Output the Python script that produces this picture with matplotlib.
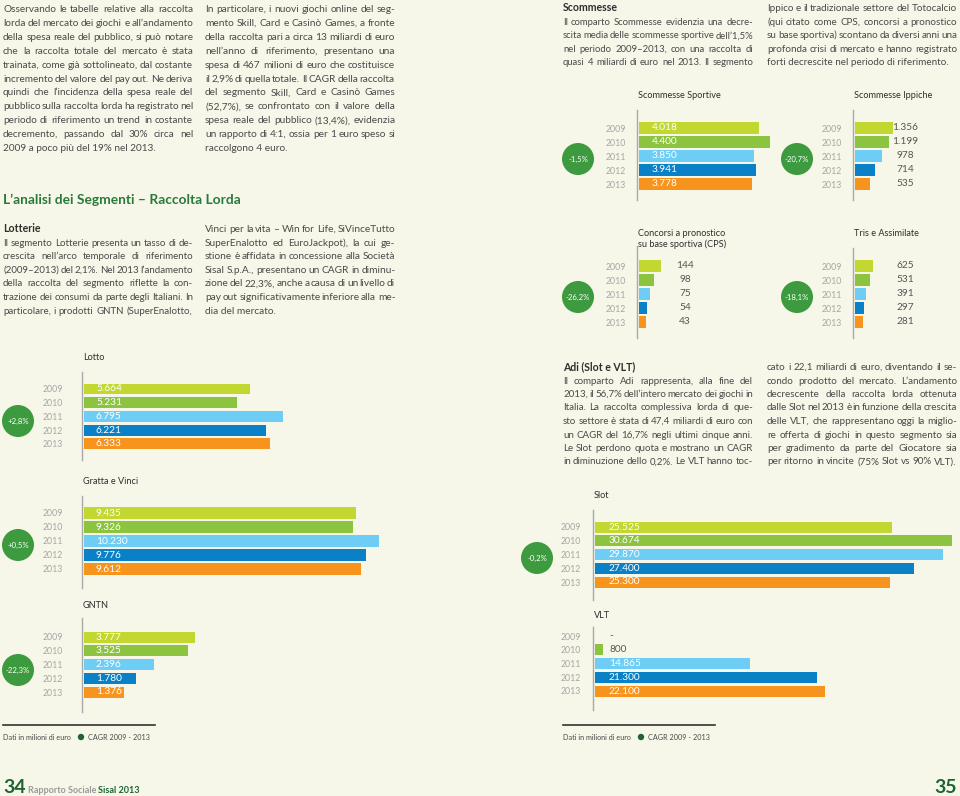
import matplotlib.pyplot as plt
from matplotlib.patches import Circle

# ---- data (milioni di euro) ----
years = ["2009", "2010", "2011", "2012", "2013"]
lotto = [5664, 5231, 6795, 6221, 6333]
gratta = [9435, 9326, 10230, 9776, 9612]
gntn = [3777, 3525, 2396, 1780, 1376]
slot = [25525, 30674, 29870, 27400, 25300]
vlt = [0, 800, 14865, 21300, 22100]
sportive = [4018, 4400, 3850, 3941, 3778]
ippiche = [1356, 1199, 978, 714, 535]
cps = [144, 98, 75, 54, 43]
tris = [625, 531, 391, 297, 281]

cagr_lotto, cagr_gratta, cagr_gntn = "+2,8%", "+0,5%", "-22,3%"
cagr_slot = "-0,2%"
cagr_sportive, cagr_ippiche, cagr_cps, cagr_tris = "-1,5%", "-20,7%", "-26,2%", "-18,1%"

BG = "#f6f7e9"
COLORS = ["#c2d72f", "#8cc43f", "#6dcdf5", "#0a80c6", "#f7941e"]
TXT = "#4a4a4a"
GREEN = "#3e9a3f"
DKGREEN = "#1d6432"

plt.rcParams['font.family'] = ['Lato', 'DejaVu Sans']

W, H = 960, 796
fig = plt.figure(figsize=(9.6, 7.96), dpi=100, facecolor=BG)
ov = fig.add_axes([0, 0, 1, 1])
ov.set_xlim(0, W)
ov.set_ylim(H, 0)
ov.axis('off')
renderer = fig.canvas.get_renderer()


def word_width(word, size, weight):
    t = ov.text(0, 0, word, fontsize=size, fontweight=weight)
    w = t.get_window_extent(renderer).width
    t.remove()
    return w


def paragraph(x0, x1, base0, step, lines, size=7.6, weight='normal',
              color=TXT, ragged=(-1,)):
    ragged = [r % len(lines) for r in ragged]
    minsp = 0.15 * size * 100 / 72
    info = []
    fit = 1.0
    for i, line in enumerate(lines):
        words = line.split(' ')
        ws = [word_width(w, size, weight) for w in words]
        info.append((words, ws))
        if i not in ragged and len(words) > 1:
            nat = sum(ws) + minsp * (len(words) - 1)
            fit = min(fit, (x1 - x0) / nat)
    s = size * fit
    for i, (words, ws) in enumerate(info):
        y = base0 + i * step
        if i in ragged or len(words) == 1:
            ov.text(x0, y, ' '.join(words), fontsize=s, fontweight=weight,
                    color=color, va='baseline', ha='left')
            continue
        ws = [w * fit for w in ws]
        gap = (x1 - x0 - sum(ws)) / (len(words) - 1)
        x = x0
        for w, ww in zip(words, ws):
            ov.text(x, y, w, fontsize=s, fontweight=weight, color=color,
                    va='baseline', ha='left')
            x += ww + gap


def fmt(v):
    return "-" if v == 0 else f"{v:,}".replace(",", ".")


def panel(vals, axis_x, top, bottom, c0, step, scale, label_off,
          outside=False, year_gap=19, title=None, title_y=None,
          circle=None):
    lo = c0 + 4 * step
    wpx = max(vals) * scale + 4
    ax = fig.add_axes([(axis_x + 2) / W, 1 - bottom / H, wpx / W,
                       (bottom - top) / H])
    ax.set_facecolor('none')
    ax.barh(range(5), vals, height=0.8, color=COLORS)
    ax.set_xlim(0, wpx / scale)
    ax.set_ylim(4 + (bottom - lo) / step, -(c0 - top) / step)
    for sp in ['top', 'right', 'bottom']:
        ax.spines[sp].set_visible(False)
    ax.spines['left'].set_position(('outward', 1.5))
    ax.spines['left'].set_color('#a9a9a9')
    ax.spines['left'].set_linewidth(1.0)
    ax.set_xticks([])
    ax.set_yticks(range(5), years)
    ax.tick_params(axis='y', length=0, pad=year_gap * 0.72,
                   labelsize=6.3, labelcolor='#a6a6a6')
    for i, v in enumerate(vals):
        if outside:
            ax.annotate(fmt(v), (0, i), xytext=(label_off * 0.72, 0),
                        textcoords='offset points', ha='center',
                        va='center', fontsize=7.3, color='#555555',
                        annotation_clip=False)
        else:
            c = 'white' if v * scale > 40 else '#555555'
            ax.annotate(fmt(v), (0, i), xytext=(label_off * 0.72, 0),
                        textcoords='offset points', ha='left',
                        va='center', fontsize=7.3, color=c,
                        annotation_clip=False)
    if title:
        ov.text(axis_x + 1, title_y, title, fontsize=6.6, color='#2e2e2e',
                va='center', ha='left', linespacing=1.25)
    if circle:
        cx, cy, txt = circle
        ov.add_patch(Circle((cx, cy), 16, color=GREEN, lw=0))
        ov.text(cx, cy, txt, fontsize=5.6, color='white', ha='center',
                va='center')
    return ax


# ---- left page panels ----
panel(lotto, 82, 372, 460, 389, 13.7, 0.0293, 12, title="Lotto",
      title_y=358, circle=(18, 421, cagr_lotto))
panel(gratta, 82, 496, 588, 513, 14.0, 0.0288, 12, title="Gratta e Vinci",
      title_y=481, circle=(18, 545, cagr_gratta))
panel(gntn, 82, 618, 712, 637, 13.75, 0.0294, 12, title="GNTN",
      title_y=605, circle=(18, 670, cagr_gntn))

# ---- right page panels ----
panel(sportive, 637, 110, 200, 128, 14.0, 0.0298, 13, year_gap=11,
      title="Scommesse Sportive", title_y=96,
      circle=(578, 159, cagr_sportive))
panel(ippiche, 853, 110, 200, 128, 14.0, 0.028, 50, outside=True,
      year_gap=11, title="Scommesse Ippiche", title_y=96,
      circle=(797, 159, cagr_ippiche))
panel(cps, 637, 246, 338, 266, 14.0, 0.153, 46, outside=True, year_gap=11,
      title="Concorsi a pronostico\nsu base sportiva (CPS)", title_y=239,
      circle=(578, 297, cagr_cps))
panel(tris, 853, 248, 338, 266, 14.0, 0.029, 50, outside=True, year_gap=11,
      title="Tris e Assimilate", title_y=234,
      circle=(797, 297, cagr_tris))
panel(slot, 593, 510, 600, 527, 13.75, 0.01165, 14, year_gap=12,
      title="Slot", title_y=495, circle=(537, 558, cagr_slot))
panel(vlt, 593, 627, 710, 636, 13.75, 0.0104, 14, year_gap=12,
      title="VLT", title_y=616)

# ---- text blocks ----
t1 = ["Osservando le tabelle relative alla raccolta",
      "lorda del mercato dei giochi e all’andamento",
      "della spesa reale del pubblico, si può notare",
      "che la raccolta totale del mercato è stata",
      "trainata, come già sottolineato, dal costante",
      "incremento del valore del pay out. Ne deriva",
      "quindi che l’incidenza della spesa reale del",
      "pubblico sulla raccolta lorda ha registrato nel",
      "periodo di riferimento un trend in costante",
      "decremento, passando dal 30% circa nel",
      "2009 a poco più del 19% nel 2013."]
t2 = ["In particolare, i nuovi giochi online del seg-",
      "mento Skill, Card e Casinò Games, a fronte",
      "della raccolta pari a circa 13 miliardi di euro",
      "nell’anno di riferimento, presentano una",
      "spesa di 467 milioni di euro che costituisce",
      "il 2,9% di quella totale. Il CAGR della raccolta",
      "del segmento Skill, Card e Casinò Games",
      "(52,7%), se confrontato con il valore della",
      "spesa reale del pubblico (13,4%), evidenzia",
      "un rapporto di 4:1, ossia per 1 euro speso si",
      "raccolgono 4 euro."]
paragraph(3, 193, 12, 13.9, t1)
paragraph(205, 395, 12, 13.9, t2)

ov.text(3, 204, "L’analisi dei Segmenti – Raccolta Lorda", fontsize=9.9,
        fontweight='bold', color="#2a7a3a", va='baseline')

lot1 = ["Il segmento Lotterie presenta un tasso di de-",
        "crescita nell’arco temporale di riferimento",
        "(2009–2013) del 2,1%. Nel 2013 l’andamento",
        "della raccolta del segmento riflette la con-",
        "trazione dei consumi da parte degli Italiani. In",
        "particolare, i prodotti GNTN (SuperEnalotto,"]
lot2 = ["Vinci per la vita – Win for Life, SiVinceTutto",
        "SuperEnalotto ed EuroJackpot), la cui ge-",
        "stione è affidata in concessione alla Società",
        "Sisal S.p.A., presentano un CAGR in diminu-",
        "zione del 22,3%, anche a causa di un livello di",
        "pay out significativamente inferiore alla me-",
        "dia del mercato."]
ov.text(3, 232, "Lotterie", fontsize=7.6, fontweight='bold', color='#2e2e2e',
        va='baseline')
paragraph(3, 193, 245.5, 13.6, lot1, ragged=())
paragraph(205, 395, 232, 13.6, lot2)

sc1 = ["Il comparto Scommesse evidenzia una decre-",
       "scita media delle scommesse sportive dell’1,5%",
       "nel periodo 2009–2013, con una raccolta di",
       "quasi 4 miliardi di euro nel 2013. Il segmento"]
sc2 = ["Ippico e il tradizionale settore del Totocalcio",
       "(qui citato come CPS, concorsi a pronostico",
       "su base sportiva) scontano da diversi anni una",
       "profonda crisi di mercato e hanno registrato",
       "forti decrescite nel periodo di riferimento."]
ov.text(563, 11, "Scommesse", fontsize=7.6, fontweight='bold',
        color='#2e2e2e', va='baseline')
paragraph(563, 753, 24.6, 13.6, sc1, ragged=())
paragraph(767, 957, 11, 13.6, sc2)

adi1 = ["Il comparto Adi rappresenta, alla fine del",
        "2013, il 56,7% dell’intero mercato dei giochi in",
        "Italia. La raccolta complessiva lorda di que-",
        "sto settore è stata di 47,4 miliardi di euro con",
        "un CAGR del 16,7% negli ultimi cinque anni.",
        "Le Slot perdono quota e mostrano un CAGR",
        "in diminuzione dello 0,2%. Le VLT hanno toc-"]
adi2 = ["cato i 22,1 miliardi di euro, diventando il se-",
        "condo prodotto del mercato. L’andamento",
        "decrescente della raccolta lorda ottenuta",
        "dalle Slot nel 2013 è in funzione della crescita",
        "delle VLT, che rappresentano oggi la miglio-",
        "re offerta di giochi in questo segmento sia",
        "per gradimento da parte del Giocatore sia",
        "per ritorno in vincite (75% Slot vs 90% VLT)."]
ov.text(563, 370, "Adi (Slot e VLT)", fontsize=7.6, fontweight='bold',
        color='#2e2e2e', va='baseline')
paragraph(563, 753, 383.5, 13.5, adi1, ragged=())
paragraph(767, 957, 370, 13.5, adi2, ragged=())

# ---- footers ----
for x0 in (3, 563):
    ov.plot([x0, x0 + 152], [725, 725], color='#333333', lw=1.2)
    ov.text(x0, 737, "Dati in milioni di euro", fontsize=5.2, color=TXT,
            va='center')
    ov.add_patch(Circle((x0 + 78, 737), 3.2, color=DKGREEN, lw=0))
    ov.text(x0 + 85, 737, "CAGR 2009 - 2013", fontsize=5.2, color=TXT,
            va='center')

ov.text(3, 793, "34", fontsize=14, fontweight='bold', color=DKGREEN,
        va='baseline')
ov.text(28, 793, "Rapporto Sociale", fontsize=6.5, fontweight='bold',
        color='#9a9a9a', va='baseline')
ov.text(98, 793, "Sisal 2013", fontsize=6.5, fontweight='bold',
        color=DKGREEN, va='baseline')
ov.text(957, 793, "35", fontsize=14, fontweight='bold', color=DKGREEN,
        va='baseline', ha='right')

fig.savefig("out.png", dpi=100, facecolor=BG)
